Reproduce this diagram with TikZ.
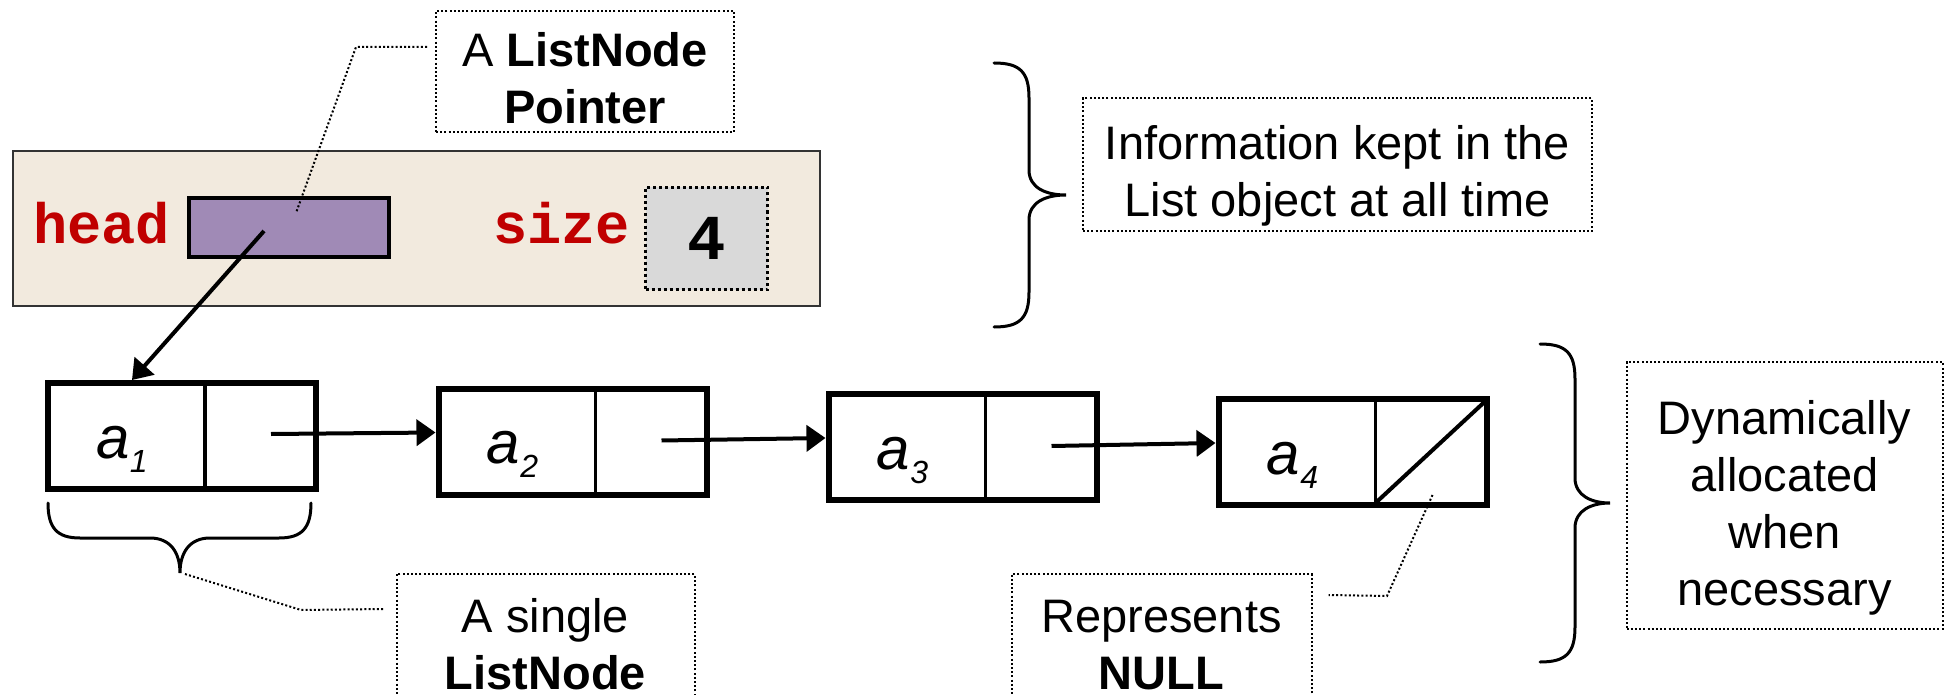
\documentclass[tikz,border=0pt]{standalone}
\usepackage{fontspec}
\setmainfont{Liberation Sans}
\setmonofont{Liberation Mono}
\usetikzlibrary{arrows.meta,calc}

\definecolor{objtan}{RGB}{242,234,222}
\definecolor{ptrpurple}{RGB}{160,138,182}
\definecolor{cellgray}{RGB}{217,217,217}
\definecolor{codered}{RGB}{192,0,0}

% vertical padding rules that shift a text block inside its frame
\newcommand\padtop[1]{\rule{0pt}{#1}}
\newcommand\padbot[1]{\rule[-#1]{0pt}{#1}}
% element label a_i
\newcommand\elem[1]{\fontsize{60}{60}\selectfont\itshape a\raisebox{-14pt}{\fontsize{32}{32}\selectfont #1}}

\begin{document}
\begin{tikzpicture}[x=1pt,y=-1pt,
  note/.style={draw, line width=2pt, dash pattern=on 2pt off 2.2pt, inner sep=0pt,
    align=center, font=\fontsize{47}{57}\selectfont},
  listnode/.style={draw, line width=6pt, minimum width=268pt, minimum height=106pt, inner sep=0pt},
  divider/.style={line width=3.5pt},
  link/.style={line width=4pt, -{Triangle[length=19pt,width=26pt]}},
  brace/.style={line width=3pt, line cap=round},
  leader/.style={line width=2pt, dash pattern=on 2pt off 2.2pt},
  code/.style={font=\fontsize{57}{57}\selectfont\ttfamily\bfseries, text=codered,
    inner sep=0pt, anchor=base west},
  elemlabel/.style={anchor=base, inner sep=0pt},
]
\useasboundingbox (0,0) rectangle (1948,695);

% the List object
\node[draw=black!80, line width=2pt, fill=objtan, minimum width=807pt, minimum height=155pt,
  inner sep=0pt] (listobj) at (416.5,228.5) {};
\node[draw, line width=4.5pt, fill=ptrpurple, minimum width=200pt, minimum height=59pt,
  inner sep=0pt] (headbox) at (289,227.5) {};
\node[code] (headlbl) at (33,243) {head};
\node[code] (sizelbl) at (493,243) {size};
\node[draw, line width=3pt, dash pattern=on 3pt off 3pt, fill=cellgray, minimum width=122pt,
  minimum height=102pt, inner sep=0pt, font=\fontsize{64}{64}\selectfont\ttfamily\bfseries]
  (sizebox) at (706.5,238.5) {4};

% annotation frames
\node[note, minimum width=298pt, minimum height=121pt] (ptrnote) at (585,71.5)
  {\padtop{50pt}A \textbf{ListNode}\\\textbf{Pointer}\padbot{2pt}};
\node[note, minimum width=509pt, minimum height=133pt] (infonote) at (1337.5,164.5)
  {\padtop{58pt}Information kept in the\\List object at all time\padbot{10pt}};
\node[note, minimum width=298pt, minimum height=126pt] (singlenote) at (545.5,637)
  {\padtop{50pt}A single\\\textbf{ListNode}\padbot{2pt}};
\node[note, minimum width=300pt, minimum height=126pt] (nullnote) at (1161.5,637)
  {\padtop{50pt}Represents\\\textbf{NULL}\padbot{2pt}};
\node[note, minimum width=316pt, minimum height=267pt] (dynnote) at (1784.5,495.5)
  {\padtop{58pt}Dynamically\\allocated\\when\\necessary\padbot{10pt}};

% list nodes
\node[listnode] (n1) at (182,436) {};
\node[listnode] (n2) at (572.5,441.5) {};
\node[listnode] (n3) at (962.5,447) {};
\node[listnode] (n4) at (1352.5,452) {};
\foreach \n in {n1,n2,n3,n4}
  \draw[divider] ($(\n.north west)+(160,3)$) -- ($(\n.south west)+(160,-3)$);
\node[elemlabel] (a1) at ($(n1.west)+(77,22)$) {\elem{1}};
\node[elemlabel] (a2) at ($(n2.west)+(77,22)$) {\elem{2}};
\node[elemlabel] (a3) at ($(n3.west)+(77,22)$) {\elem{3}};
\node[elemlabel] (a4) at ($(n4.west)+(77,22)$) {\elem{4}};
% NULL pointer
\draw[line width=4pt] ($(n4.south west)+(160,-5)$) -- ($(n4.north east)+(-4,5)$);

% links
\draw[link] ($(headbox.center)+(-25,3.5)$) -- ($(n1.north)+(-50,0)$);
\draw[link] ($(n1.center)+(89,-2)$) -- ($(n2.west)+(0,-9)$);
\draw[link] ($(n2.center)+(89,-1)$) -- ($(n3.west)+(0,-9)$);
\draw[link] ($(n3.center)+(89,-1)$) -- ($(n4.west)+(0,-9)$);

% braces
\draw[brace] (994,63) .. controls (1020,63) and (1029,72) .. (1029,98) -- (1029,170)
  .. controls (1029,188) and (1046,195) .. (1066,195)
  .. controls (1046,195) and (1029,202) .. (1029,220) -- (1029,292)
  .. controls (1029,318) and (1020,327) .. (994,327);
\draw[brace] (1540,344) .. controls (1566,344) and (1575,353) .. (1575,379) -- (1575,478)
  .. controls (1575,496) and (1592,503) .. (1610,503)
  .. controls (1592,503) and (1575,510) .. (1575,528) -- (1575,627)
  .. controls (1575,653) and (1566,662) .. (1540,662);
\coordinate (bracetip) at (180,573);
\draw[brace] (48,503) .. controls (48,528) and (57,538) .. (80,538) -- (150,538)
  .. controls (170,538) and (180,552) .. (bracetip)
  .. controls (180,552) and (190,538) .. (210,538) -- (279,538)
  .. controls (302,538) and (311,528) .. (311,503);

% leaders
\draw[leader] ($(ptrnote.north west)+(-8,37)$) -- ++(-71,0) -- ($(headbox.center)+(7,-14.5)$);
\draw[leader] ($(bracetip)+(5,1)$) -- (301,610) -- ($(singlenote.north west)+(-12,36)$);
\draw[leader] ($(n4.south east)+(-57,-13)$) -- (1387,596) -- ($(nullnote.north east)+(16,22)$);
\end{tikzpicture}
\end{document}
